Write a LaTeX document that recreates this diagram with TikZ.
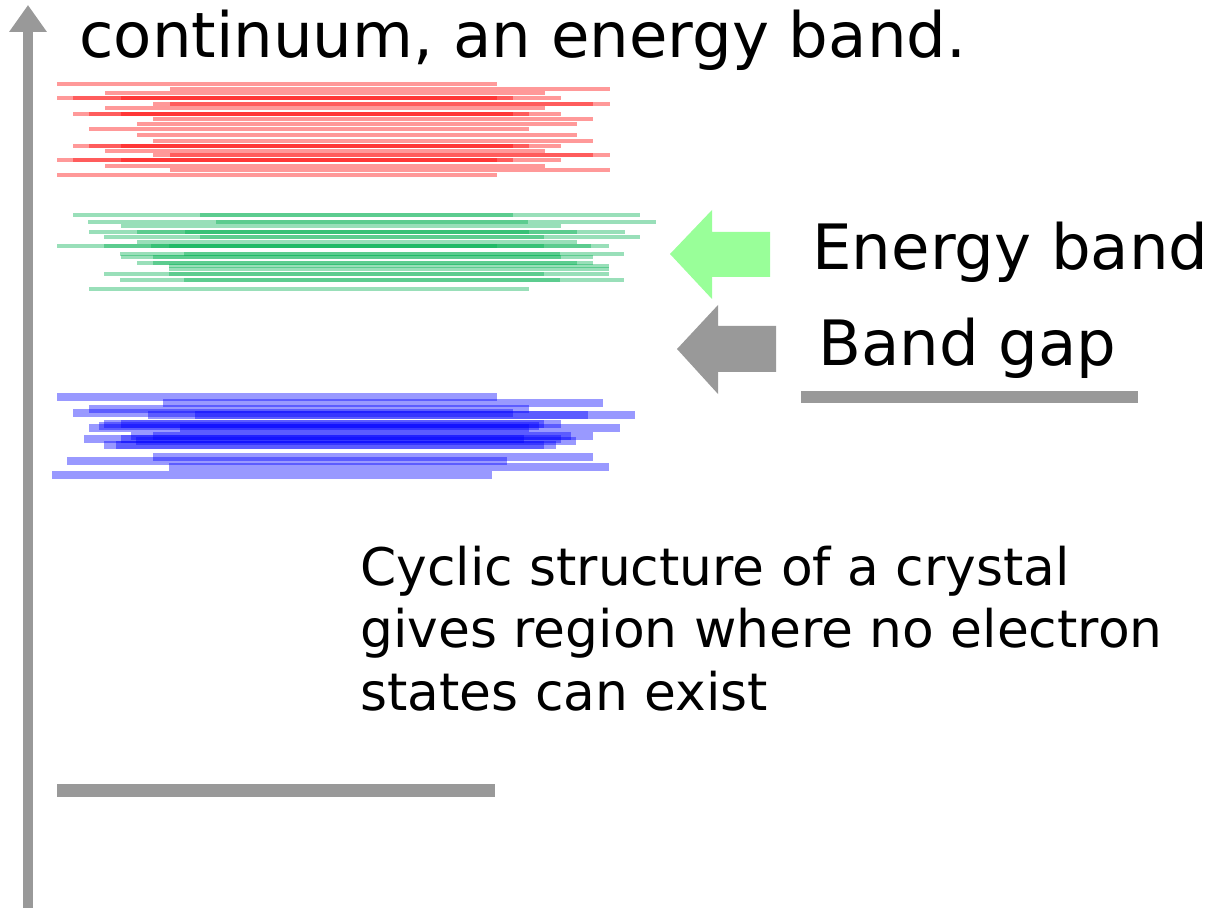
\documentclass[tikz,border=0pt]{standalone}
\usepackage{fontspec}
\setmainfont{DejaVu Sans}
\usepackage{xcolor}
\usetikzlibrary{arrows.meta}
\definecolor{axisgrey}{RGB}{153,153,153}
\definecolor{bandred}{RGB}{255,0,0}
\definecolor{bandgreen}{RGB}{0,176,80}
\definecolor{bandblue}{RGB}{0,0,255}
\definecolor{arrowgreen}{RGB}{153,255,153}

\begin{document}
\begin{tikzpicture}[x=0.02cm, y=-0.02cm,
    redlevel/.style={draw=bandred, line width=2.3pt, opacity=0.4},
    greenlevel/.style={draw=bandgreen, line width=2.3pt, opacity=0.4},
    bluelevel/.style={draw=bandblue, line width=4pt, opacity=0.4},
    greybar/.style={draw=axisgrey, line width=#1},
    bigtext/.style={inner sep=0pt, font=\fontsize{35.6pt}{42pt}\selectfont},
    smalltext/.style={inner sep=0pt, align=left, font=\fontsize{29.5pt}{35.3pt}\selectfont}]
        \useasboundingbox (0,0) rectangle (1219,908);
        % Energy axis
        \coordinate (axisfoot) at (28,908);
        \coordinate (axistip) at (28,5);
        \draw[greybar=6.2pt, -{Triangle[width=20.4pt,length=15.3pt]}] (axisfoot) -- (axistip);
        \node[bigtext, anchor=base west] (title) at (79,58) {continuum, an energy band.};

        % Upper band (red)
        \foreach \xs/\ys in {57/84, 57/175, 170/89, 170/170, 105/93, 105/166,
                57/98, 73/98, 121/98, 57/160, 73/160, 121/160,
                153/104, 170/104, 153/155, 170/155, 105/108, 105/151,
                73/114, 89/114, 121/114, 73/146, 89/146, 121/146,
                153/119, 137/124, 137/135, 153/141, 89/129}
            \draw[redlevel] (\xs,\ys) -- ++(440,0);

        % Middle band (green)
        \foreach \xs/\ys in {73/215, 200/215, 88/222, 216/222, 121/226,
                89/232, 137/232, 185/232, 104/237, 200/237, 137/242,
                57/246, 104/246, 151/246, 169/246, 120/254, 184/254,
                121/257, 153/257, 137/263, 153/263, 169/266, 169/269,
                104/274, 169/274, 120/280, 184/280, 89/289}
            \draw[greenlevel] (\xs,\ys) -- ++(440,0);

        % Lower band (blue)
        \foreach \xs/\ys in {57/397, 163/403, 89/409, 73/413, 148/415, 195/415,
                104/424, 121/424, 99/426, 89/428, 180/428, 153/436, 131/436,
                121/439, 84/439, 136/441, 104/445, 116/445, 153/457,
                67/461, 169/467, 52/475}
            \draw[bluelevel] (\xs,\ys) -- ++(440,0);

        % Pointers
        \fill[arrowgreen] (670,254) -- (712,210) -- (712,232) -- (770,232)
            -- (770,277) -- (712,277) -- (712,299) -- cycle;
        \node[bigtext, anchor=base west] (bandlabel) at (812,270) {Energy band};
        \fill[axisgrey] (677,349) -- (718,305) -- (718,326) -- (776,326)
            -- (776,372) -- (718,372) -- (718,394) -- cycle;
        \node[bigtext, anchor=base west] (gaplabel) at (818,366) {Band gap};
        \coordinate (gapleft) at (801,397);
        \coordinate (gapright) at (1138,397);
        \draw[greybar=6.8pt] (gapleft) -- (gapright);

        % Note and base level
        \node[smalltext, anchor=base west] (cyclic) at (360,710)
            {Cyclic structure of a crystal\\gives region where no electron\\states can exist};
        \coordinate (baseleft) at (57,790);
        \coordinate (baseright) at (495,790);
        \draw[greybar=7.4pt] (baseleft) -- (baseright);
    \end{tikzpicture}
\end{document}
